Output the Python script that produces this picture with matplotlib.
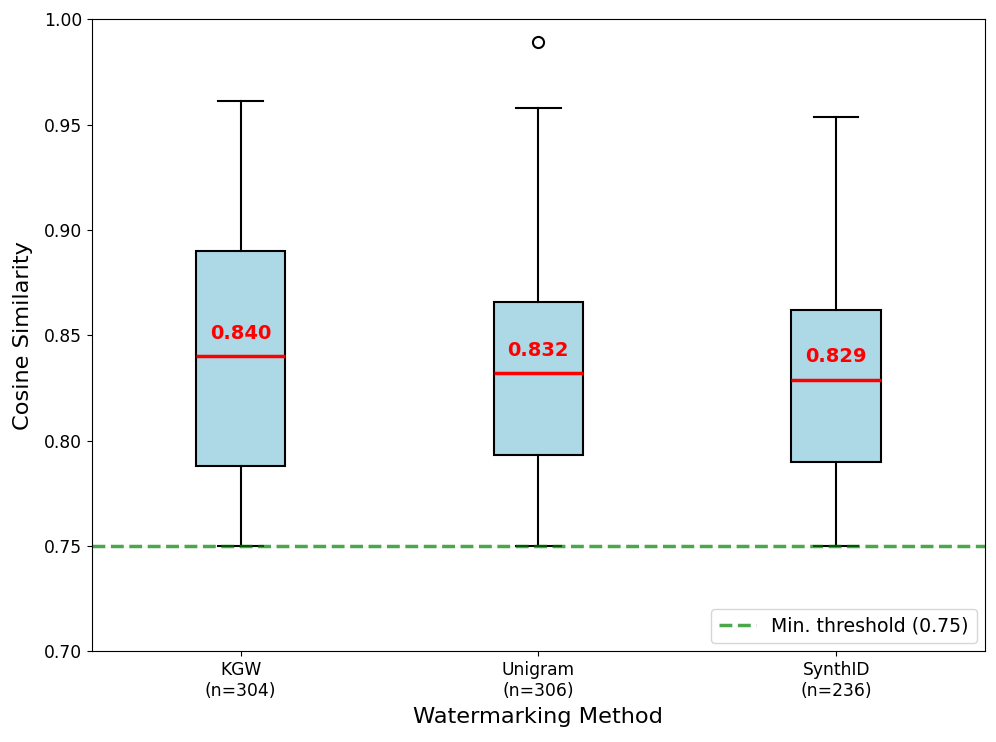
import numpy as np
import matplotlib.pyplot as plt

methods = ['KGW', 'Unigram', 'SynthID']
counts = [304, 306, 236]
medians = [0.840, 0.832, 0.829]
q1 = [0.788, 0.793, 0.790]
q3 = [0.890, 0.866, 0.862]
whislo = [0.750, 0.750, 0.750]
whishi = [0.961, 0.958, 0.9535]
fliers = [[], [0.989], []]
threshold = 0.75

stats = []
for i, m in enumerate(methods):
    stats.append(dict(med=medians[i], q1=q1[i], q3=q3[i],
                      whislo=whislo[i], whishi=whishi[i],
                      fliers=fliers[i], label=f'{m}\n(n={counts[i]})'))

fig, ax = plt.subplots(figsize=(9.96, 7.42), dpi=100)
fig.subplots_adjust(left=0.092, right=0.989, top=0.974, bottom=0.122)

ax.bxp(stats, widths=0.3, patch_artist=True,
       boxprops=dict(facecolor='lightblue', edgecolor='black', linewidth=1.5),
       medianprops=dict(color='red', linewidth=2.5),
       whiskerprops=dict(linewidth=1.5),
       capprops=dict(linewidth=1.5),
       flierprops=dict(marker='o', markersize=8, markerfacecolor='none',
                       markeredgecolor='black', markeredgewidth=1.5))

for i, med in enumerate(medians):
    ax.text(i + 1, med + 0.0065, f'{med:.3f}', ha='center', va='bottom',
            color='red', fontsize=14, fontweight='bold')

ax.axhline(threshold, color='green', linestyle='--', linewidth=2.5, alpha=0.7,
           label=f'Min. threshold ({threshold})')

ax.set_ylim(0.70, 1.00)
ax.set_xlim(0.5, 3.5)
ax.set_xlabel('Watermarking Method', fontsize=16.2, labelpad=5)
ax.set_ylabel('Cosine Similarity', fontsize=16.2, labelpad=8)
ax.tick_params(labelsize=12.3)
ax.legend(loc='lower right', fontsize=13.6, borderaxespad=0.45)

fig.savefig('out.png')
